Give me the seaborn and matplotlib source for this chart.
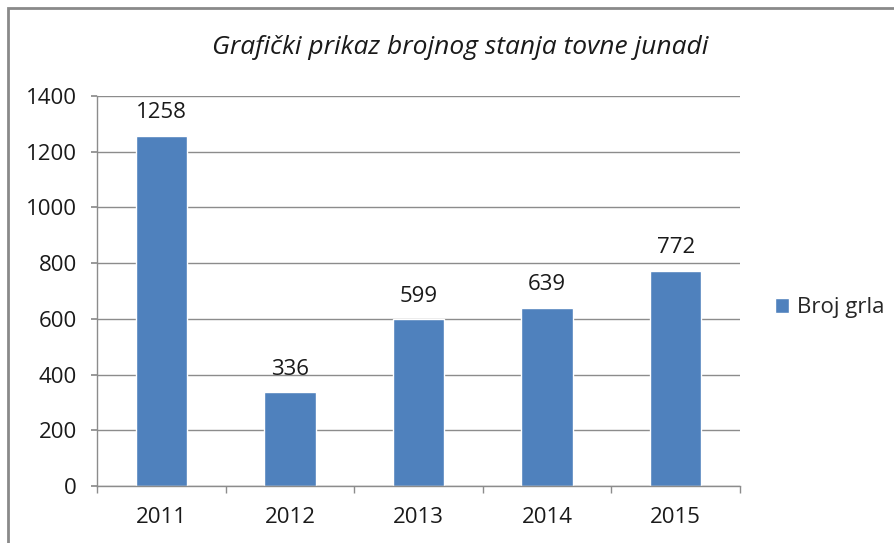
import matplotlib
matplotlib.use("Agg")
import matplotlib.pyplot as plt
import seaborn as sns
import pandas as pd
from matplotlib.patches import Rectangle

# data
godine = ["2011", "2012", "2013", "2014", "2015"]
broj_grla = [1258, 336, 599, 639, 772]
serija = "Broj grla"
naslov = "Grafički prikaz brojnog stanja tovne junadi"

BAR_COLOR = "#4F81BD"
GRID_COLOR = "#8C8C8C"
TEXT_COLOR = "#1a1a1a"

sns.set_theme(style="white")
plt.rcParams["font.family"] = ["Open Sans", "DejaVu Sans"]

df = pd.DataFrame({"godina": godine, "broj": broj_grla})

fig = plt.figure(figsize=(8.94, 5.43), dpi=100)
ax = fig.add_axes([97 / 894, 1 - 486 / 543, (740 - 97) / 894, (486 - 96) / 543])

sns.barplot(data=df, x="godina", y="broj", color=BAR_COLOR, width=0.4,
            saturation=1, ax=ax, label=serija)

ax.set_ylim(0, 1400)
ax.set_yticks(range(0, 1401, 200))
ax.set_xlim(-0.5, len(godine) - 0.5)
ax.set_xlabel("")
ax.set_ylabel("")
ax.yaxis.grid(True, color=GRID_COLOR, linewidth=1)
ax.set_axisbelow(True)

for s in ["top", "right"]:
    ax.spines[s].set_visible(False)
for s in ["left", "bottom"]:
    ax.spines[s].set_color(GRID_COLOR)
    ax.spines[s].set_linewidth(1)

# x ticks on category boundaries, labels centred
ax.set_xticks([i - 0.5 for i in range(len(godine) + 1)], minor=True)
ax.tick_params(axis="x", which="minor", length=5, color=GRID_COLOR, bottom=True)
ax.tick_params(axis="x", which="major", length=0, pad=15, labelsize=16, labelcolor=TEXT_COLOR)
ax.tick_params(axis="y", length=4.5, color=GRID_COLOR, left=True, pad=10, labelsize=16, labelcolor=TEXT_COLOR)

for c in ax.containers:
    ax.bar_label(c, padding=9, fontsize=16, color=TEXT_COLOR)

fig.text(460 / 894, 1 - 48 / 543, naslov, ha="center", va="center",
         fontsize=19, style="italic", color=TEXT_COLOR)

ax.legend(loc="center left", bbox_to_anchor=((775 - 97) / 643, (486 - 308) / 390),
          frameon=False, fontsize=16, handlelength=0.65, handleheight=0.65,
          handletextpad=0.35, borderaxespad=0, borderpad=0)

# chart border (only top and left visible in the crop)
fig.patches.append(Rectangle((8 / 894, -0.1), 1.2, 1 - 8 / 543 + 0.1,
                             transform=fig.transFigure, fill=False,
                             edgecolor="#8a8a8a", linewidth=2))

fig.savefig("out.png", dpi=100)
